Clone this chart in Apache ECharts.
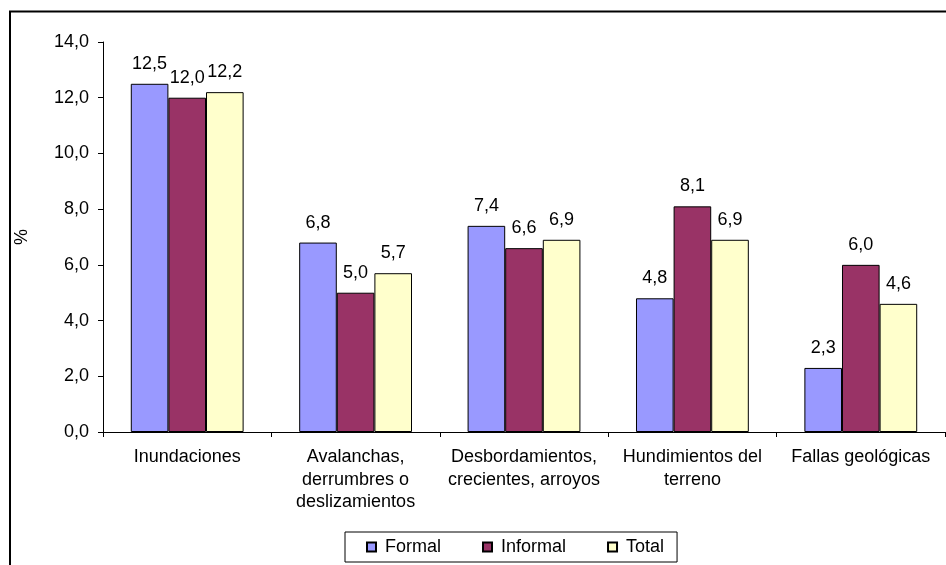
<!DOCTYPE html>
<html>
<head>
<meta charset="utf-8">
<script src="https://cdn.jsdelivr.net/npm/echarts@6/dist/echarts.min.js"></script>
<style>
html,body{margin:0;padding:0;background:#fff;}
#chart{width:946px;height:565px;}
</style>
</head>
<body>
<div id="chart"></div>
<script>
// Categories and series values
const categories = [
  'Inundaciones',
  'Avalanchas,\nderrumbres o\ndeslizamientos',
  'Desbordamientos,\ncrecientes, arroyos',
  'Hundimientos del\nterreno',
  'Fallas geológicas'
];
const formal = [12.5, 6.8, 7.4, 4.8, 2.3];
const informal = [12.0, 5.0, 6.6, 8.1, 6.0];
const total = [12.2, 5.7, 6.9, 6.9, 4.6];
const yTicks = [0, 2, 4, 6, 8, 10, 12, 14];

const FONT = '"Liberation Sans", Arial, sans-serif';
const FS = 18;
const fmt = v => v.toFixed(1).replace('.', ',');

function barSeries(name, data, color) {
  return {
    name: name,
    type: 'bar',
    data: data,
    barGap: '0%',
    barCategoryGap: '33%',
    itemStyle: { color: color, borderColor: '#000', borderWidth: 1 },
    label: {
      show: true,
      position: 'top',
      distance: 11,
      formatter: p => fmt(p.value),
      fontFamily: FONT,
      fontSize: FS,
      color: '#000'
    },
    emphasis: { disabled: true }
  };
}

const chart = echarts.init(document.getElementById('chart'), null, { renderer: 'canvas' });
chart.setOption({
  animation: false,
  backgroundColor: '#fff',
  textStyle: { fontFamily: FONT },
  graphic: [{
    type: 'polyline',
    shape: { points: [[10, 600], [10, 11.5], [960, 11.5]] },
    style: { stroke: '#000', lineWidth: 2, fill: null },
    silent: true
  }],
  grid: { left: 103, right: 1, top: 42, bottom: 133, containLabel: false, outerBoundsMode: 'none' },
  legend: {
    left: 345,
    top: 532,
    padding: [6, 13, 6, 21],
    itemGap: 41,
    itemWidth: 9,
    itemHeight: 9,
    icon: 'rect',
    borderColor: '#000',
    borderWidth: 1,
    textStyle: { fontFamily: FONT, fontSize: FS, color: '#000', padding: [0, 0, 0, 4] },
    data: ['Formal', 'Informal', 'Total']
  },
  xAxis: {
    type: 'category',
    data: categories,
    axisLine: { lineStyle: { color: '#000', width: 1 } },
    axisTick: { show: true, length: 5, lineStyle: { color: '#000' } },
    axisLabel: {
      interval: 0,
      margin: 14,
      fontFamily: FONT,
      fontSize: FS,
      color: '#000',
      lineHeight: 22.5,
      align: 'center'
    }
  },
  yAxis: {
    type: 'value',
    min: yTicks[0],
    max: yTicks[yTicks.length - 1],
    interval: 2,
    name: '%',
    nameLocation: 'middle',
    nameGap: 72,
    nameRotate: 90,
    nameTextStyle: { fontFamily: FONT, fontSize: FS, color: '#000' },
    axisLine: { show: true, lineStyle: { color: '#000', width: 1 } },
    axisTick: { show: true, length: 5, lineStyle: { color: '#000' } },
    splitLine: { show: false },
    axisLabel: {
      margin: 14,
      fontFamily: FONT,
      fontSize: FS,
      color: '#000',
      formatter: v => fmt(v)
    }
  },
  series: [
    barSeries('Formal', formal, '#9999FF'),
    barSeries('Informal', informal, '#993366'),
    barSeries('Total', total, '#FFFFCC')
  ]
});
</script>
</body>
</html>
